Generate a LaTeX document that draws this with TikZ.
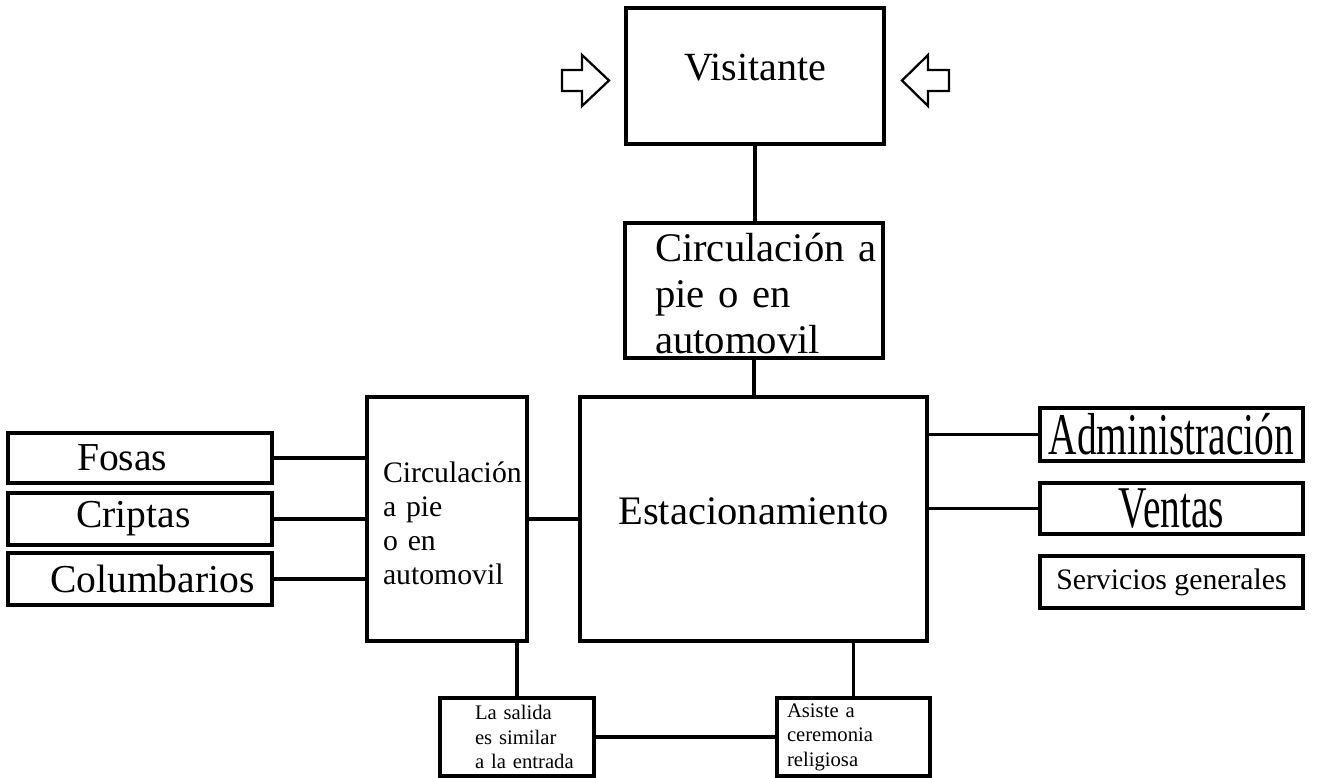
\documentclass[tikz,border=0pt]{standalone}
\usepackage{fontspec}
\setmainfont{Liberation Serif}
\usepackage{graphicx}
\newcommand{\px}{*0.75pt}

\begin{document}
\begin{tikzpicture}[x=0.75pt,y=-0.75pt,
		caja/.style={draw,line width=2.5pt,inner sep=0pt,align=center},
		linea/.style={line width=2.5pt},
		flecha/.style={line width=1.7pt,line join=miter}]
	\useasboundingbox (0,0) rectangle (1317,778);
	% bloques del centro
	\node[caja,minimum width=258\px,minimum height=136\px,text depth=12.75pt,font=\fontsize{30}{34}\selectfont] (vis) at (755,76) {Visitante};
	\node[caja,minimum width=258\px,minimum height=135\px,text width=198\px,align=left,font=\fontsize{30.5}{34.5}\selectfont] (circtop) at (754,290.5) {\rule{0pt}{25.5pt}\mbox{Circulación a}\\pie o en\\automovil};
	\node[caja,minimum width=347\px,minimum height=244\px,text depth=11.5pt,font=\fontsize{30.4}{34}\selectfont] (estac) at (753.5,519) {Estacionamiento};
	\node[caja,minimum width=160\px,minimum height=244\px,text width=128\px,align=left,font=\fontsize{22.3}{25.5}\selectfont] (circizq) at (447,519) {\rule{0pt}{22pt}\mbox{Circulación}\\a pie\\o en\\automovil};
	% izquierda
	\node[caja,minimum width=264\px,minimum height=50\px,text width=126\px,align=left,font=\fontsize{29.7}{34}\selectfont] (fosas) at (140,458) {Fosas};
	\node[caja,minimum width=264\px,minimum height=52\px,text width=128\px,align=left,font=\fontsize{29.7}{34}\selectfont] (criptas) at (140,519) {Criptas};
	\node[caja,minimum width=264\px,minimum height=52\px,text width=180\px,align=left,font=\fontsize{29.7}{34}\selectfont] (columb) at (140,579) {\mbox{Columbarios}};
	% derecha
	\node[caja,minimum width=263\px,minimum height=53\px,font=\fontsize{29.6}{34}\selectfont] (admin) at (1171.5,434.5) {\scalebox{1}[1.5]{Administración}};
	\node[caja,minimum width=263\px,minimum height=51\px,font=\fontsize{29.6}{34}\selectfont] (ventas) at (1171.5,508.5) {\scalebox{1}[1.5]{Ventas}};
	\node[caja,minimum width=263\px,minimum height=52\px,font=\fontsize{22.3}{26}\selectfont] (servicios) at (1171.5,582) {Servicios generales};
	% abajo
	\node[caja,minimum width=154\px,minimum height=78\px,text width=84\px,align=left,font=\fontsize{15.5}{18.4}\selectfont] (salida) at (517,737) {La salida\\\mbox{es similar}\\\mbox{a la entrada}};
	\node[caja,minimum width=153\px,minimum height=78\px,text width=133\px,align=left,font=\fontsize{15.5}{18.4}\selectfont] (asiste) at (853.5,737) {Asiste a\\ceremonia\\religiosa};
	% conexiones
	\draw[linea] (vis.south) -- (vis.south |- circtop.north);
	\draw[linea] (circtop.south) -- (circtop.south |- estac.north);
	\foreach \n in {fosas,criptas,columb}
	\draw[linea] (\n.east) -- (\n.east -| circizq.west);
	\draw[linea] (circizq.east) -- (estac.west);
	\foreach \n in {admin,ventas}
	\draw[linea] (\n.west -| estac.east) -- (\n.west);
	\draw[linea] (salida.north) -- (salida.north |- circizq.south);
	\draw[linea] (asiste.north) -- (asiste.north |- estac.south);
	\draw[linea] (salida.east) -- (asiste.west);
	% flechas de entrada
	\draw[flecha] (562,70) -- (582,70) -- (582,55) -- (609,80.5) -- (582,106) -- (582,91) -- (562,91) -- cycle;
	\draw[flecha] (949,70) -- (928,70) -- (928,55) -- (902,80.5) -- (928,106) -- (928,91) -- (949,91) -- cycle;
\end{tikzpicture}
\end{document}
